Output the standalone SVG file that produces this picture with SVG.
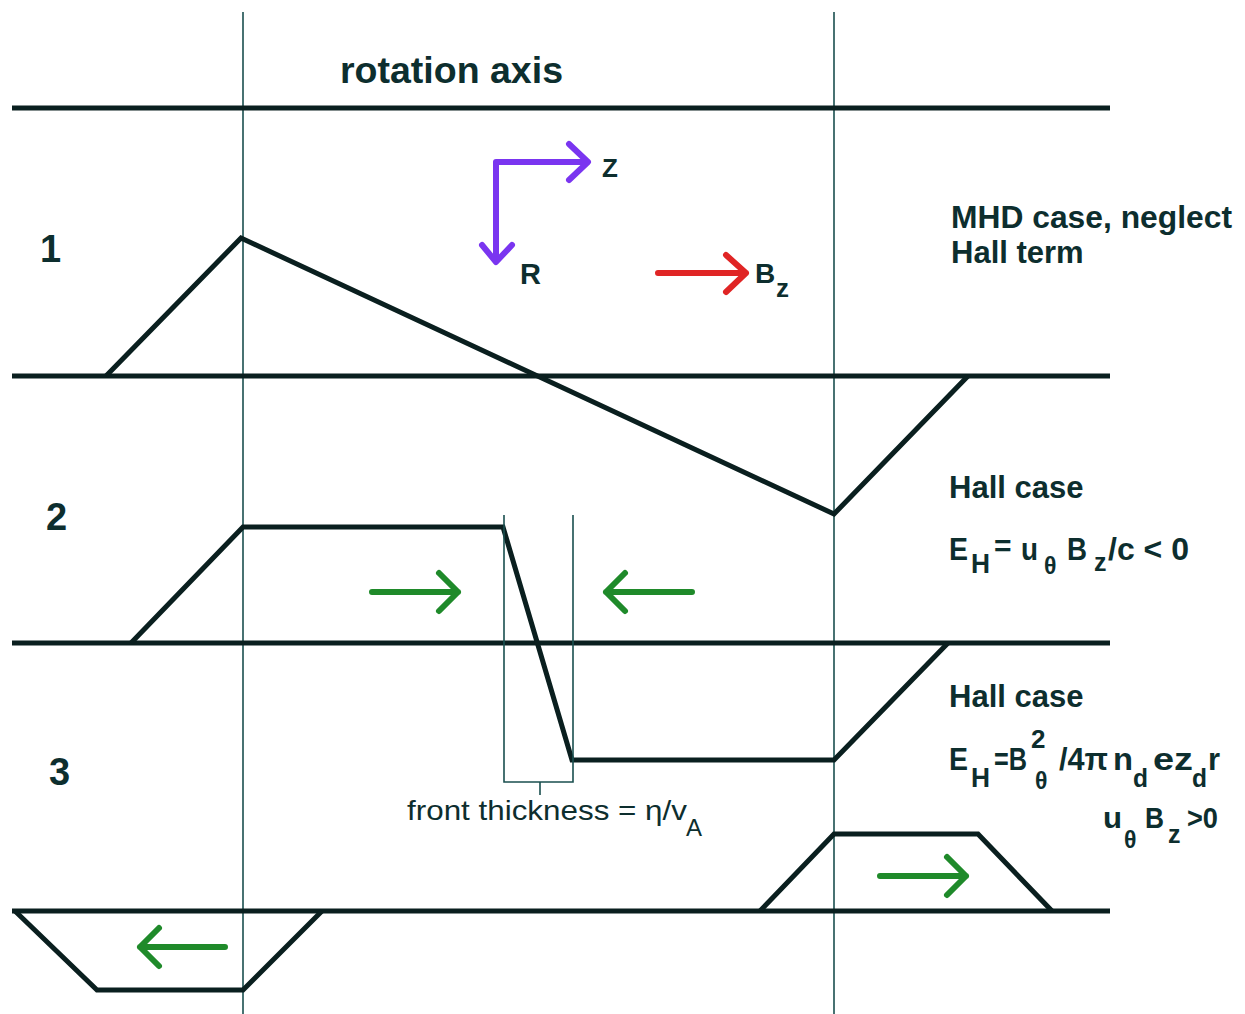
<svg xmlns="http://www.w3.org/2000/svg" width="1245" height="1014" viewBox="0 0 1245 1014">
<defs>
<style>
.axis{stroke:#0a1f1f;stroke-width:5;fill:none}
.guide{stroke:#1a4f4f;stroke-width:1.6;fill:none}
.curve{stroke:#0a1f1f;stroke-width:5;fill:none;stroke-linejoin:miter}
.g{stroke:#1f8a2a;stroke-width:6;fill:none;stroke-linecap:round;stroke-linejoin:round}
.p{stroke:#7a35f0;stroke-width:6;fill:none;stroke-linecap:round;stroke-linejoin:round}
.r{stroke:#e02525;stroke-width:6;fill:none;stroke-linecap:round;stroke-linejoin:round}
text{font-family:"Liberation Sans",Arial,sans-serif;fill:#0d2e2e}
.b{font-weight:bold}
</style>
</defs>
<rect width="1245" height="1014" fill="#ffffff"/>
<g id="grid">
<line class="guide" x1="243" y1="12" x2="243" y2="1014"/>
<line class="guide" x1="834" y1="12" x2="834" y2="1014"/>
<line class="axis" x1="12" y1="108" x2="1110" y2="108"/>
<line class="axis" x1="12" y1="376" x2="1110" y2="376"/>
<line class="axis" x1="12" y1="643" x2="1110" y2="643"/>
<line class="axis" x1="12" y1="911" x2="1110" y2="911"/>
</g>
<g id="connectors">
<polyline id="curve1" class="curve" points="106,376 241,238 834,514 968,376"/>
<polyline id="curve2" class="curve" points="131,643 243,527 503,527 572,760 834,760 948,643"/>
<polyline id="curve3a" class="curve" points="760,911 834,834 978,834 1052,911"/>
<polyline id="curve3b" class="curve" points="15,911 97,990 243,990 322,911"/>
<g id="front-box">
<polyline class="guide" points="504,515 504,782 573,782 573,515"/>
<line class="guide" x1="540" y1="782" x2="540" y2="795"/>
</g>
<g id="green-arrows">
<path class="g" d="M372,592 H458 M439,573 L458,592 L439,611"/>
<path class="g" d="M692,592 H606 M625,573 L606,592 L625,611"/>
<path class="g" d="M880,876 H966 M947,857 L966,876 L947,895"/>
<path class="g" d="M225,947 H140 M159,928 L140,947 L159,966"/>
</g>
<g id="coord-axes">
<path class="p" d="M587,162 H496 V261 M569,144 L588,162 L569,180 M482,245 L496,262 L512,245"/>
<path class="r" d="M658,273 H746 M726,255 L746,273 L726,292"/>
</g>
</g>
<g id="labels">
<text class="b" x="340" y="83" font-size="36" textLength="223" lengthAdjust="spacingAndGlyphs">rotation axis</text>
<text class="b" x="40" y="262" font-size="38">1</text>
<text class="b" x="46" y="530" font-size="38">2</text>
<text class="b" x="49" y="785" font-size="38">3</text>
<text class="b" x="602" y="177" font-size="26">Z</text>
<text class="b" x="520" y="284" font-size="29">R</text>
<text class="b" x="755" y="283" font-size="28">B</text>
<text class="b" x="776" y="297" font-size="26">z</text>
<text class="b" x="951" y="228" font-size="31" textLength="281" lengthAdjust="spacingAndGlyphs">MHD case, neglect</text>
<text class="b" x="951" y="263" font-size="31">Hall term</text>
<text class="b" x="949" y="498" font-size="31">Hall case</text>
<g id="eq1">
<text class="b" x="949" y="560" font-size="31" textLength="19" lengthAdjust="spacingAndGlyphs">E</text>
<text class="b" x="971" y="573" font-size="27" textLength="19" lengthAdjust="spacingAndGlyphs">H</text>
<text class="b" x="994" y="556" font-size="30">=</text>
<text class="b" x="1021" y="560" font-size="31" textLength="17" lengthAdjust="spacingAndGlyphs">u</text>
<text class="b" x="1044" y="574" font-size="23">θ</text>
<text class="b" x="1067" y="560" font-size="31" textLength="20" lengthAdjust="spacingAndGlyphs">B</text>
<text class="b" x="1094" y="571" font-size="25">z</text>
<text class="b" x="1108" y="560" font-size="31" textLength="81" lengthAdjust="spacingAndGlyphs">/c &lt; 0</text>
</g>
<text class="b" x="949" y="707" font-size="31">Hall case</text>
<g id="eq2">
<text class="b" x="949" y="770" font-size="31" textLength="19" lengthAdjust="spacingAndGlyphs">E</text>
<text class="b" x="971" y="787" font-size="27" textLength="19" lengthAdjust="spacingAndGlyphs">H</text>
<text class="b" x="994" y="770" font-size="31" textLength="33" lengthAdjust="spacingAndGlyphs">=B</text>
<text class="b" x="1031" y="748" font-size="26">2</text>
<text class="b" x="1035" y="789" font-size="23">θ</text>
<text class="b" x="1059" y="770" font-size="31" textLength="49" lengthAdjust="spacingAndGlyphs">/4π</text>
<text class="b" x="1113" y="770" font-size="31" textLength="20" lengthAdjust="spacingAndGlyphs">n</text>
<text class="b" x="1133" y="787" font-size="25" textLength="15" lengthAdjust="spacingAndGlyphs">d</text>
<text class="b" x="1153" y="770" font-size="31" textLength="40" lengthAdjust="spacingAndGlyphs">ez</text>
<text class="b" x="1192" y="787" font-size="25" textLength="15" lengthAdjust="spacingAndGlyphs">d</text>
<text class="b" x="1208" y="770" font-size="31">r</text>
</g>
<g id="eq3">
<text class="b" x="1103" y="828" font-size="30" textLength="19" lengthAdjust="spacingAndGlyphs">u</text>
<text class="b" x="1124" y="848" font-size="23">θ</text>
<text class="b" x="1145" y="828" font-size="30" textLength="19" lengthAdjust="spacingAndGlyphs">B</text>
<text class="b" x="1168" y="843" font-size="25">z</text>
<text class="b" x="1187" y="828" font-size="30" textLength="31" lengthAdjust="spacingAndGlyphs">&gt;0</text>
</g>
<text x="407" y="820" font-size="28" textLength="280" lengthAdjust="spacingAndGlyphs">front thickness = η/v</text>
<text x="686" y="836" font-size="24">A</text>
</g>
</svg>
